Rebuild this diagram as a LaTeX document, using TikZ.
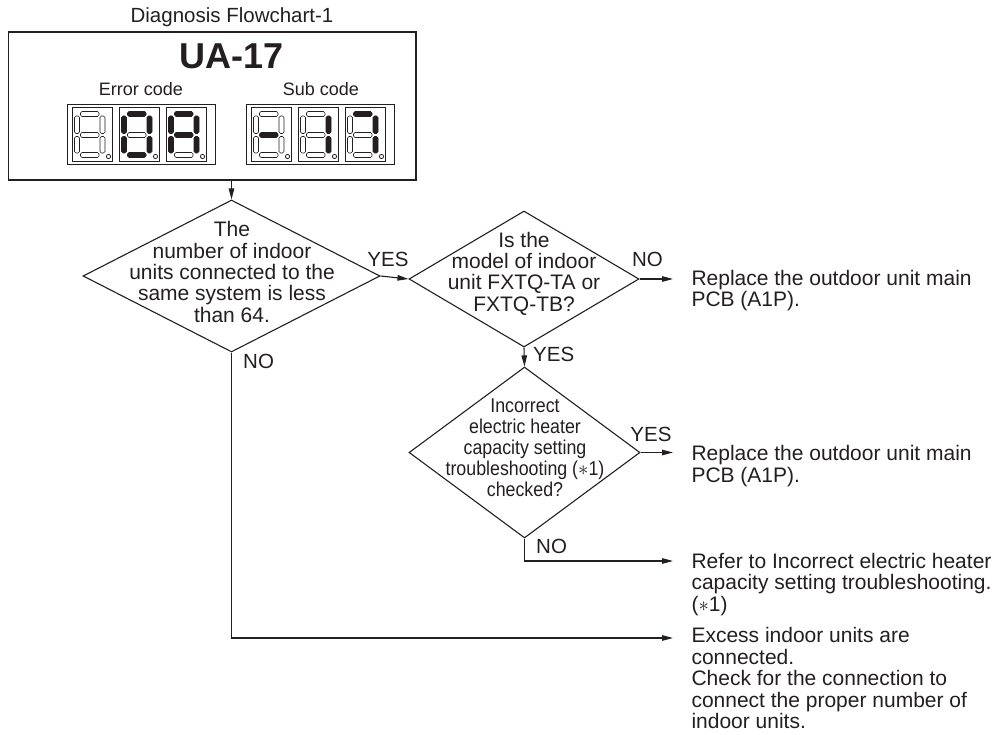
\documentclass[tikz,border=0pt]{standalone}
\usepackage{fontspec}
\setmainfont{Liberation Sans}
\newfontfamily\condfont[FakeStretch=0.89]{Liberation Sans}
\usetikzlibrary{shapes.geometric,arrows.meta}
\definecolor{ink}{RGB}{35,31,32}
\newcommand\sevseg[9]{%
 \begin{scope}[shift={(#1,#2)}]
  \draw[cell] (0,0) rectangle (40,54);
  \draw[#3] (8.5,4.5) rectangle (27,9.5);
  \draw[#4] (28,9) rectangle (33,26.5);
  \draw[#5] (28,29.5) rectangle (33,46);
  \draw[#6] (8.5,45.5) rectangle (27,50.5);
  \draw[#7] (2.5,29.5) rectangle (7.5,46);
  \draw[#8] (2.5,9) rectangle (7.5,26.5);
  \draw[#9] (8.5,25.5) rectangle (27,30.5);
  \draw[cell] (36.5,49.5) circle (2.1);
 \end{scope}}
\begin{document}
\begin{tikzpicture}[x=1pt,y=-1pt,
  line/.style={draw=ink, line width=1.1pt},
  arr/.style={line, -{Triangle[length=11pt,width=5.5pt]}},
  dia/.style={diamond, draw=ink, line width=1.1pt, inner sep=0pt},
  body/.style={font=\fontsize{21}{21.4}\selectfont, text=ink, align=center, inner sep=0pt},
  res/.style={font=\fontsize{21}{21.4}\selectfont, text=ink, align=left, inner sep=0pt, outer xsep=18.5pt, anchor=north west},
  lbl/.style={font=\fontsize{20.5}{21}\selectfont, text=ink, inner sep=0pt},
  cell/.style={draw=ink, line width=0.8pt},
  segon/.style={draw=ink, fill=ink, line width=0.6pt, rounded corners=1.5pt},
  segoff/.style={draw=ink, fill=white, line width=0.6pt, rounded corners=1.5pt},
  dispbox/.style={draw=ink, line width=0.9pt, minimum width=148pt, minimum height=60pt, inner sep=0pt}]
\useasboundingbox (0,0) rectangle (1007,735);

% header
\node[lbl, anchor=base] (title) at (232,23) {Diagnosis Flowchart-1};
\node[draw=ink, line width=1.1pt, minimum width=407.5pt, minimum height=148pt, inner sep=0pt] (hdr) at (212.25,106) {};
\node[anchor=base, inner sep=0pt, text=ink, font=\fontsize{36}{36}\selectfont\bfseries] (code) at (232,69) {UA-17};
\node[anchor=base, inner sep=0pt, text=ink, font=\fontsize{18}{18}\selectfont] (elab) at (141,96) {Error code};
\node[anchor=base, inner sep=0pt, text=ink, font=\fontsize{18}{18}\selectfont] (slab) at (321,96) {Sub code};
\node[dispbox] (ebox) at (141,134) {};
\node[dispbox] (sbox) at (320,134) {};
% digits: a b c d e f g
\sevseg{72}{107}{segoff}{segoff}{segoff}{segoff}{segoff}{segoff}{segoff}
\sevseg{119}{107}{segon}{segon}{segon}{segon}{segon}{segon}{segoff}
\sevseg{166}{107}{segon}{segon}{segon}{segoff}{segon}{segon}{segon}
\sevseg{251}{107}{segoff}{segoff}{segoff}{segoff}{segoff}{segoff}{segon}
\sevseg{298}{107}{segoff}{segon}{segon}{segoff}{segoff}{segoff}{segoff}
\sevseg{345}{107}{segon}{segon}{segon}{segoff}{segoff}{segoff}{segoff}

% diamonds
\node[dia, minimum width=297pt, minimum height=152pt] (d1) at (231.5,276) {};
\node[dia, minimum width=230pt, minimum height=136pt] (d2) at (524,279) {};
\node[dia, minimum width=231pt, minimum height=171pt] (d3) at (524.5,452.5) {};
\node[body] (t1) at (232,272) {The\\number of indoor\\units connected to the\\same system is less\\than 64.};
\node[body] (t2) at (524,273.5) {Is the\\model of indoor\\unit FXTQ-TA or\\FXTQ-TB?};
\node[body, font=\condfont\fontsize{20}{21}\selectfont] (t3) at (525,447.5) {Incorrect\\electric heater\\capacity setting\\troubleshooting ($\ast$1)\\checked?};

% results
\node[res] (r1) at (673,269.8) {Replace the outdoor unit main\\PCB (A1P).};
\node[res] (r2) at (673,445.3) {Replace the outdoor unit main\\PCB (A1P).};
\node[res] (r3) at (673,552.8) {Refer to Incorrect electric heater\\capacity setting troubleshooting.\\($\ast$1)};
\node[res] (r4) at (673,627.5) {Excess indoor units are\\connected.\\Check for the connection to\\connect the proper number of\\indoor units.};
\coordinate (k3) at (673,561);
\coordinate (k4) at (673,638);

% connectors
\draw[arr] (hdr.south -| d1.north) -- (d1.north);
\draw[arr] (d1.east) -- (d2.west);
\draw[arr] (d2.east) -- (d2.east -| r1.west);
\draw[arr] (d2.south) -- (d3.north);
\draw[arr] (d3.east) -- (d3.east -| r2.west);
\draw[arr] (d3.south) |- (k3);
\draw[arr] (d1.south) |- (k4);

% labels
\node[lbl, anchor=base] (y1) at (388,267) {YES};
\node[lbl, anchor=base] (n2) at (647.5,266.7) {NO};
\node[lbl, anchor=base west] (y2) at (533,361.7) {YES};
\node[lbl, anchor=base] (y3) at (651,441) {YES};
\node[lbl, anchor=base west] (n3) at (536,553.3) {NO};
\node[lbl, anchor=base west] (n1) at (243,368.3) {NO};
\end{tikzpicture}
\end{document}
